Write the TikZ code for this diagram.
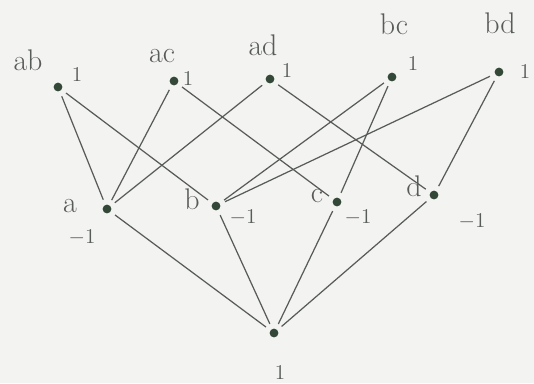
\documentclass[tikz,border=0pt]{standalone}
\usepackage{tikz}
\usetikzlibrary{positioning}
\definecolor{paper}{RGB}{243,243,241}
\definecolor{pencil}{RGB}{88,92,88}
\definecolor{blob}{RGB}{52,72,56}
\tikzset{
  dot/.style={circle,fill=blob,inner sep=0pt,minimum size=5pt},
  edge/.style={draw=pencil,line width=0.7pt,shorten <=3pt,shorten >=3pt},
  tag/.style={text=pencil,font=\fontsize{17}{19}\selectfont},
  wt/.style={text=pencil,font=\fontsize{12}{14}\selectfont}
}

\begin{document}
\begin{tikzpicture}[x=0.02cm,y=-0.02cm]
    \fill[paper] (0,0) rectangle (534,383);
    \useasboundingbox (0,0) rectangle (534,383);
    % top row: pairs
    \foreach \n/\x/\y/\lx/\ly/\wx/\wy in {
      ab/58/87/28/60/77/74,
      ac/174/81/162/56/188/78,
      ad/270/79/263/45/287/70,
      bc/392/77/394/24/413/63,
      bd/499/72/500/23/525/71}
    {
      \node[dot] (\n) at (\x,\y) {};
      \node[tag] (l\n) at (\lx,\ly) {\n};
      \node[wt] (w\n) at (\wx,\wy) {1};
    }
    % middle row: singletons
    \foreach \n/\x/\y/\lx/\ly/\wx/\wy in {
      a/107/209/70/206/82/238,
      b/216/206/192/199/243/218,
      c/337/202/317/196/358/218,
      d/434/195/414/186/472/222}
    {
      \node[dot] (\n) at (\x,\y) {};
      \node[tag] (l\n) at (\lx,\ly) {\n};
      \node[wt] (w\n) at (\wx,\wy) {$-1$};
    }
    % bottom
    \node[dot] (e) at (274,333) {};
    \node[wt] (we) at (280,372) {1};
    \foreach \p/\q in {ab/a,ab/b,ac/a,ac/c,ad/a,ad/d,bc/b,bc/c,bd/b,bd/d,a/e,b/e,c/e,d/e}
      \draw[edge] (\p) -- (\q);
  \end{tikzpicture}
\end{document}
